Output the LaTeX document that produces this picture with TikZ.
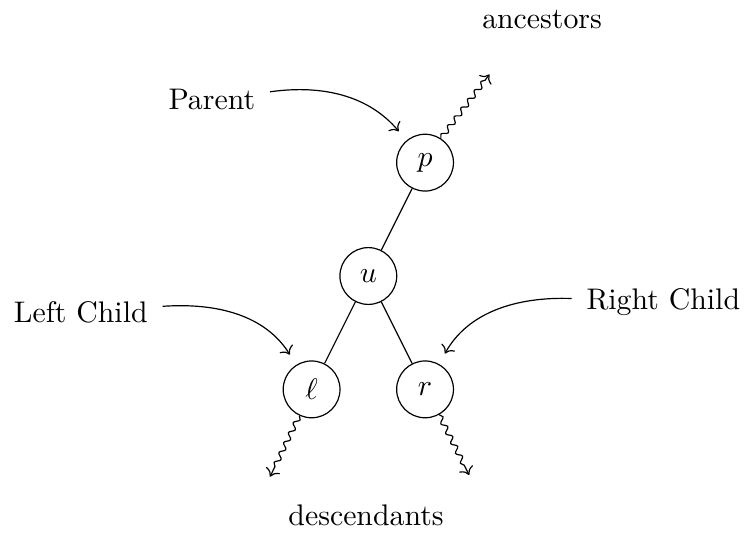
\documentclass[tikz,border=0pt]{standalone}
\usetikzlibrary{arrows.meta, calc, decorations.pathmorphing}
\tikzset{
  vertex/.style={draw, circle, minimum size=0.67cm, inner sep=0pt},
  pointer/.style={->, shorten <=1.5pt, shorten >=4pt},
  wiggle/.style={->, decorate, decoration={snake, amplitude=.3mm, segment length=1.3mm, post length=.8mm}},
}

\begin{document}
\begin{tikzpicture}
  \useasboundingbox (-4.344,-3.043) rectangle (4.466,3.255);
  % tree
  \node[vertex] (u) at (0,0) {$u$};
  \node[vertex] (p) at (0.669,1.337) {$p$};
  \node[vertex] (l) at (-0.669,-1.337) {$\ell$};
  \node[vertex] (r) at (0.669,-1.337) {$r$};
  \draw (u) -- (p);
  \draw (u) -- (l);
  \draw (u) -- (r);
  % paths up and down
  \coordinate (up) at ($(p)+(0.76,1.04)$);
  \coordinate (dl) at ($(l)+(-0.49,-1.03)$);
  \coordinate (dr) at ($(r)+(0.52,-1.01)$);
  \draw[wiggle] (p.57) -- (up);
  \draw[wiggle] (l.-115) -- (dl);
  \draw[wiggle] (r.-61) -- (dr);
  \node (anc) at (2.049,3.025) {ancestors};
  \node (desc) at (-0.027,-2.819) {descendants};
  % labels
  \node (par) at (-1.846,2.076) {Parent};
  \node (lc) at (-3.391,-0.425) {Left Child};
  \node (rc) at (3.479,-0.303) {Right Child};
  \draw[pointer] (par) to[out=8, in=130] (p);
  \draw[pointer] (lc) to[out=4, in=122] (l);
  \draw[pointer] (rc) to[out=178, in=61] (r);
\end{tikzpicture}
\end{document}
